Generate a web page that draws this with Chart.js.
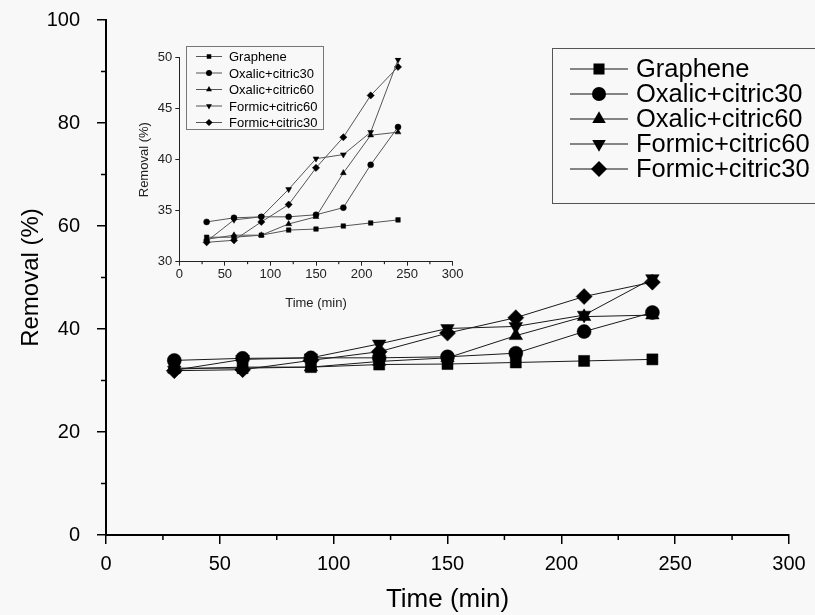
<!DOCTYPE html>
<html>
<head>
<meta charset="utf-8">
<script src="https://cdn.jsdelivr.net/npm/chart.js@4"></script>
<style>
  html, body { margin: 0; padding: 0; background: #f8f8f8; }
  #wrap { position: relative; width: 815px; height: 615px; overflow: hidden; }
  #main { position: absolute; left: 0; top: 0; }
  #inset { position: absolute; left: 120px; top: 25px; }
</style>
</head>
<body>
<div id="wrap">
  <canvas id="main" width="815" height="615"></canvas>
  <canvas id="inset" width="350" height="290"></canvas>
</div>
<script>
// DATA
const times = [30, 60, 90, 120, 150, 180, 210, 240];
const graphene = [32.4, 32.4, 32.6, 33.1, 33.2, 33.5, 33.8, 34.1];
const oxalic30 = [33.9, 34.3, 34.4, 34.4, 34.6, 35.3, 39.5, 43.2];
const oxalic60 = [32.2, 32.6, 32.6, 33.7, 34.4, 38.7, 42.4, 42.7];
const formic60 = [32.0, 34.1, 34.4, 37.1, 40.1, 40.5, 42.7, 49.8];
const formic30 = [31.9, 32.1, 33.9, 35.6, 39.2, 42.2, 46.3, 49.1];

const seriesNames = ['Graphene', 'Oxalic+citric30', 'Oxalic+citric60', 'Formic+citric60', 'Formic+citric30'];
const seriesValues = [graphene, oxalic30, oxalic60, formic60, formic30];
const markers = ['rect', 'circle', 'triangle', 'triangle', 'rectRot'];
const rotations = [0, 0, 0, 180, 0];

const mainYTicks = [0, 20, 40, 60, 80, 100];
const mainXTicks = [0, 50, 100, 150, 200, 250, 300];
const insetYTicks = [30, 35, 40, 45, 50];
const insetXTicks = [0, 50, 100, 150, 200, 250, 300];

const FONT = "'Liberation Sans', Arial, sans-serif";

// main markers are a bit different in size per shape
const mainRadius = [7.8, 7, 7.8, 7.8, 8];
const insetRadius = [3.2, 3, 3.4, 3.4, 3.6];

function makeDatasets(radii, lineColor) {
  return seriesNames.map((name, i) => ({
    label: name,
    data: times.map((t, j) => ({ x: t, y: seriesValues[i][j] })),
    borderColor: lineColor,
    borderWidth: 1,
    pointStyle: markers[i],
    pointRotation: rotations[i],
    pointRadius: radii[i],
    pointBackgroundColor: '#000',
    pointBorderColor: '#000',
    pointBorderWidth: 0.5,
    tension: 0
  }));
}

// minor ticks + legend drawn after the chart
function minorTicks(chart, axisId, values, len, width) {
  const ctx = chart.ctx;
  const s = chart.scales[axisId];
  ctx.save();
  ctx.strokeStyle = '#000';
  ctx.lineWidth = width;
  ctx.beginPath();
  values.forEach(v => {
    const p = s.getPixelForValue(v);
    if (s.isHorizontal()) {
      ctx.moveTo(p, s.top);
      ctx.lineTo(p, s.top + len);
    } else {
      ctx.moveTo(s.right, p);
      ctx.lineTo(s.right - len, p);
    }
  });
  ctx.stroke();
  ctx.restore();
}

function drawLegend(chart, box, opts) {
  const ctx = chart.ctx;
  ctx.save();
  ctx.strokeStyle = opts.boxColor;
  ctx.lineWidth = 1;
  ctx.strokeRect(box.x, box.y, box.w, box.h);
  ctx.font = opts.fontSize + 'px ' + FONT;
  ctx.textBaseline = 'middle';
  ctx.fillStyle = '#000';
  chart.data.datasets.forEach((ds, i) => {
    const y = opts.firstRow + i * opts.rowStep;
    ctx.strokeStyle = opts.lineColor;
    ctx.lineWidth = 1;
    ctx.beginPath();
    ctx.moveTo(opts.lineX0, y);
    ctx.lineTo(opts.lineX1, y);
    ctx.stroke();
    ctx.fillStyle = '#000';
    Chart.helpers.drawPoint(ctx, {
      pointStyle: ds.pointStyle,
      rotation: ds.pointRotation,
      radius: ds.pointRadius,
      borderWidth: 0
    }, (opts.lineX0 + opts.lineX1) / 2, y);
    ctx.fillText(ds.label, opts.textX, y + 1);
  });
  ctx.restore();
}

const bgPlugin = {
  id: 'bg',
  beforeDraw(chart, args, o) {
    if (!o.color) return;
    const ctx = chart.ctx;
    ctx.save();
    ctx.fillStyle = o.color;
    ctx.fillRect(0, 0, chart.width, chart.height);
    ctx.restore();
  }
};

function fixAxis(size, horizontal) {
  return (scale) => {
    if (horizontal) scale.height = size; else scale.width = size;
    scale.paddingLeft = 0;
    scale.paddingRight = 0;
    scale.paddingTop = 0;
    scale.paddingBottom = 0;
  };
}

// MAIN CHART
const mainChart = new Chart(document.getElementById('main'), {
  type: 'line',
  data: { datasets: makeDatasets(mainRadius, '#1a1a1a') },
  plugins: [bgPlugin, {
    id: 'mainExtras',
    afterDraw(chart) {
      minorTicks(chart, 'x', [25, 75, 125, 175, 225, 275], 5, 1.5);
      minorTicks(chart, 'y', [10, 30, 50, 70, 90], 5, 1.5);
      drawLegend(chart, { x: 552.5, y: 48.5, w: 300, h: 155 }, {
        boxColor: '#555', lineColor: '#111', fontSize: 25.5,
        firstRow: 69, rowStep: 25, lineX0: 570, lineX1: 628, textX: 636
      });
    }
  }],
  options: {
    responsive: false,
    animation: false,
    layout: { padding: { top: 20, right: 26, left: 0, bottom: 0 } },
    plugins: { legend: { display: false }, tooltip: { enabled: false }, bg: { color: '#f8f8f8' } },
    scales: {
      x: {
        type: 'linear', min: 0, max: 300,
        afterFit: fixAxis(80, true),
        afterBuildTicks: (s) => { s.ticks = mainXTicks.map(v => ({ value: v })); },
        grid: { display: true, drawOnChartArea: false, drawTicks: true, tickLength: 9, color: '#000', lineWidth: 1.5 },
        border: { display: true, color: '#000', width: 2 },
        ticks: { color: '#000', font: { family: FONT, size: 20 }, padding: 8, maxRotation: 0 },
        title: { display: true, text: 'Time (min)', color: '#000', font: { family: FONT, size: 26 }, padding: { top: 4, bottom: 0 } }
      },
      y: {
        type: 'linear', min: 0, max: 100,
        afterFit: fixAxis(106, false),
        afterBuildTicks: (s) => { s.ticks = mainYTicks.map(v => ({ value: v })); },
        grid: { display: true, drawOnChartArea: false, drawTicks: true, tickLength: 9, color: '#000', lineWidth: 1.5 },
        border: { display: true, color: '#000', width: 2 },
        ticks: { color: '#000', font: { family: FONT, size: 20 }, padding: 17 },
        title: { display: true, text: 'Removal (%)', color: '#000', font: { family: FONT, size: 24 }, padding: { top: 17 } }
      }
    }
  }
});

// INSET CHART
const insetChart = new Chart(document.getElementById('inset'), {
  type: 'line',
  data: { datasets: makeDatasets(insetRadius, '#555') },
  plugins: [{
    id: 'insetExtras',
    afterDraw(chart) {
      minorTicks(chart, 'x', [25, 75, 125, 175, 225, 275], 2.5, 1);
      drawLegend(chart, { x: 66.5, y: 21.5, w: 137, h: 83 }, {
        boxColor: '#777', lineColor: '#555', fontSize: 13,
        firstRow: 31.5, rowStep: 16.5, lineX0: 76, lineX1: 102, textX: 109
      });
    }
  }],
  options: {
    responsive: false,
    animation: false,
    layout: { padding: { top: 32.7, right: 17.3, left: 0, bottom: 0 } },
    plugins: { legend: { display: false }, tooltip: { enabled: false } },
    scales: {
      x: {
        type: 'linear', min: 0, max: 300,
        afterFit: fixAxis(53.3, true),
        afterBuildTicks: (s) => { s.ticks = insetXTicks.map(v => ({ value: v })); },
        grid: { display: true, drawOnChartArea: false, drawTicks: true, tickLength: 4, color: '#222', lineWidth: 1 },
        border: { display: true, color: '#222', width: 1 },
        ticks: { color: '#222', font: { family: FONT, size: 13 }, padding: 1, maxRotation: 0 },
        title: { display: true, text: 'Time (min)', color: '#222', font: { family: FONT, size: 13 }, padding: { top: 4 } }
      },
      y: {
        type: 'linear', min: 30, max: 50,
        afterFit: fixAxis(59.3, false),
        afterBuildTicks: (s) => { s.ticks = insetYTicks.map(v => ({ value: v })); },
        grid: { display: true, drawOnChartArea: false, drawTicks: true, tickLength: 4, color: '#222', lineWidth: 1 },
        border: { display: true, color: '#222', width: 1 },
        ticks: { color: '#222', font: { family: FONT, size: 13 }, padding: 3 },
        title: { display: true, text: 'Removal (%)', color: '#222', font: { family: FONT, size: 13 }, padding: { top: 17 } }
      }
    }
  }
});
</script>
</body>
</html>
